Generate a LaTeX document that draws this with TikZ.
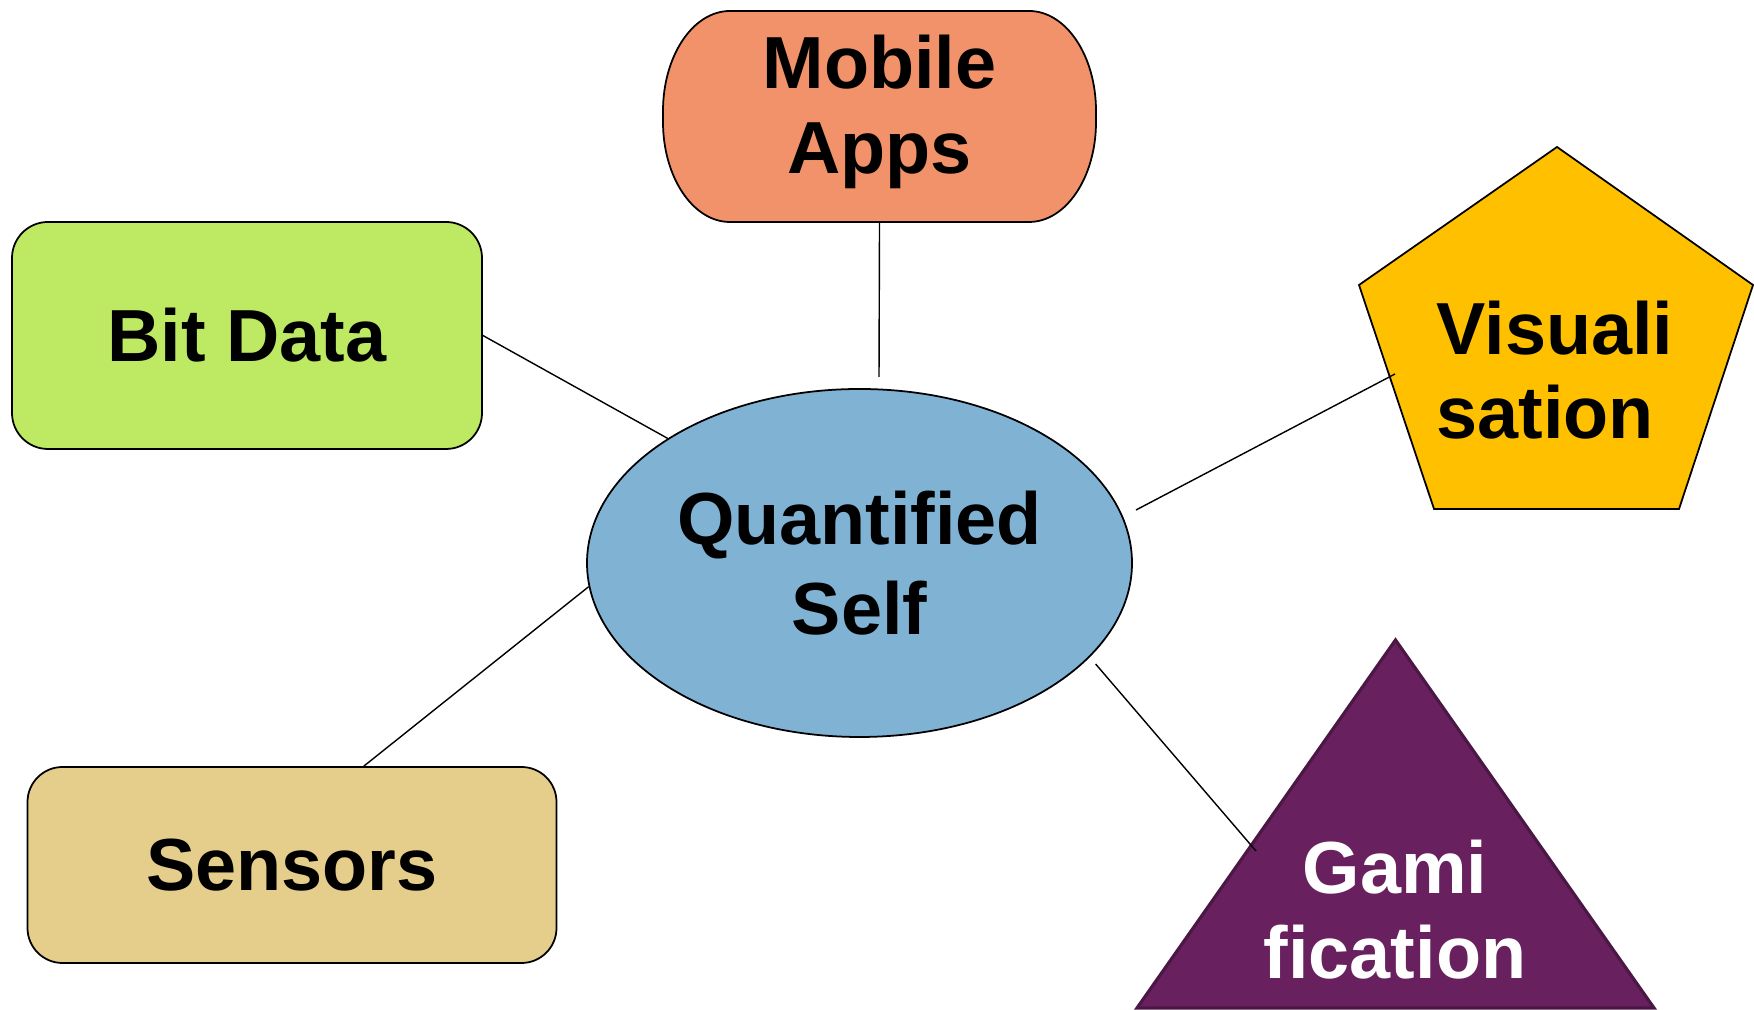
\documentclass[tikz,border=0pt]{standalone}
\usepackage{fontspec}
\setmainfont{Liberation Sans}
\usetikzlibrary{shapes.geometric}

\definecolor{mobilefill}{HTML}{F1926A}
\definecolor{bitfill}{HTML}{BEE962}
\definecolor{qsfill}{HTML}{80B2D4}
\definecolor{visfill}{HTML}{FFC000}
\definecolor{sensfill}{HTML}{E5CD8B}
\definecolor{gamfill}{HTML}{68205E}
\definecolor{gamline}{HTML}{4B1745}

\begin{document}
\begin{tikzpicture}[x=0.1mm, y=0.1mm,
    every node/.style={font=\bfseries\fontsize{21}{24}\selectfont, align=center},
    box/.style={draw, line width=0.5pt, rounded corners=3.6mm, inner sep=0pt},
    link/.style={draw, line width=0.4pt}]
            \useasboundingbox (0,0) rectangle (1754,1010);
            % mobile apps, sides are elliptic
            \draw[fill=mobilefill, line width=0.5pt] (730,999) -- (1029,999)
                arc[start angle=90, end angle=0, x radius=6.7mm, y radius=10mm] -- (1096,888)
                arc[start angle=0, end angle=-90, x radius=6.7mm, y radius=10mm] -- (730,788)
                arc[start angle=270, end angle=180, x radius=6.7mm, y radius=10mm] -- (663,899)
                arc[start angle=180, end angle=90, x radius=6.7mm, y radius=10mm] -- cycle;
            \node[minimum width=43.3mm, minimum height=22mm, inner sep=0pt] (mob) at (879.5,898) {Mobile\\Apps};
            \node[box, fill=bitfill, minimum width=47mm, minimum height=22.7mm] (bit) at (247,674.5) {Bit Data};
            \node[box, fill=sensfill, rounded corners=3.5mm, minimum width=52.9mm, minimum height=19.6mm] (sen) at (292,145) {Sensors};
            \node[ellipse, draw, fill=qsfill, line width=0.5pt, minimum width=54.5mm, minimum height=34.8mm, inner sep=0pt,
                font=\bfseries\fontsize{21}{25.5}\selectfont] (qs) at (859.5,447) {Quantified\\Self};
            % pentagon and triangle
            \draw[fill=visfill, line width=0.5pt] (1557,863) -- (1753,725) -- (1679,501) -- (1434,501) -- (1359,725) -- cycle;
            \node[align=left] (vis) at (1555,640) {Visuali\\sation};
            \draw[fill=gamfill, draw=gamline, line width=0.9pt] (1395.5,370) -- (1654,2) -- (1137,2) -- cycle;
            \node[text=white] (gam) at (1395,100.5) {Gami\\fication};
            % free ends of the links
            \coordinate (qsN) at (879,633);
            \coordinate (qsE) at (1136,500);
            \coordinate (visW) at (1395,636);
            \coordinate (qsSE) at (1095.6,346);
            \coordinate (gamW) at (1256,159);
            \draw[link] (mob.south) -- (qsN);
            \draw[link] (bit.east) -- (qs.147);
            \draw[link] (sen.54.8) -- (qs.185);
            \draw[link] (qsE) -- (visW);
            \draw[link] (qsSE) -- (gamW);
        \end{tikzpicture}
\end{document}
